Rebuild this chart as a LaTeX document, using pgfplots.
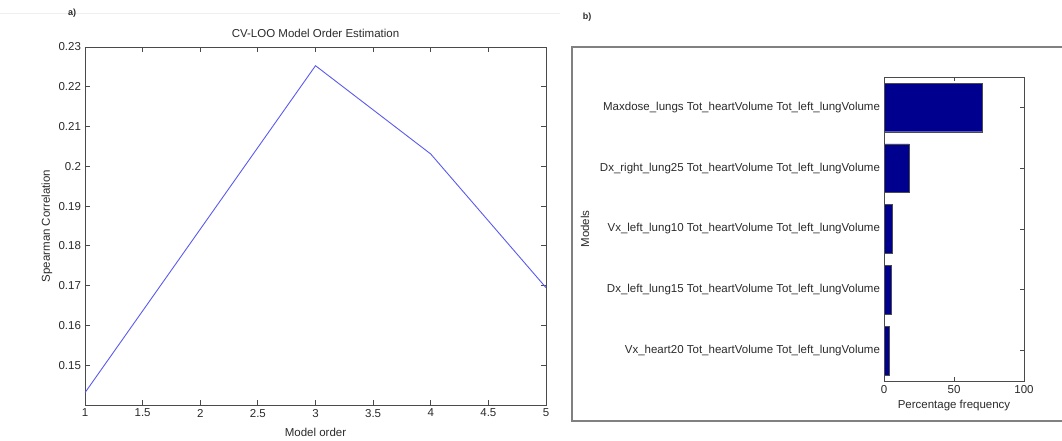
\documentclass[border=0pt]{standalone}
\usepackage{fontspec}
\setmainfont{Liberation Sans}
\usepackage{pgfplots}
\pgfplotsset{compat=1.18}
\definecolor{txt}{HTML}{2A2A2A}
\definecolor{axc}{HTML}{4A4A4A}
\definecolor{linec}{RGB}{90,90,238}
\definecolor{barc}{RGB}{0,0,143}
\begin{document}
\fontsize{11.5}{13.5}\selectfont
\begin{tikzpicture}[x=1pt,y=1pt]
\useasboundingbox (0,0) rectangle (1062,441);
\draw[black!6, line width=1pt] (0,427) -- (560,427);
\node[font=\bfseries\fontsize{9}{10}\selectfont, text=txt] at (72,428) {a)};
\node[font=\bfseries\fontsize{9}{10}\selectfont, text=txt] at (587,424) {b)};
\draw[black!50, line width=1.6pt] (1070,394) -- (572,394) -- (572,20) -- (1070,20);
\begin{axis}[
  at={(85pt,36pt)}, anchor=south west, scale only axis,
  width=461pt, height=358pt,
  xmin=1, xmax=5, ymin=0.14, ymax=0.23,
  xtick={1,1.5,2,2.5,3,3.5,4,4.5,5},
  ytick={0.15,0.16,0.17,0.18,0.19,0.2,0.21,0.22,0.23},
  scaled y ticks=false, scaled x ticks=false,
  /pgf/number format/assume math mode=true,
  yticklabel style={/pgf/number format/fixed, /pgf/number format/precision=2, text=txt},
  xticklabel style={text=txt},
  tick align=inside, major tick length=5pt,
  axis line style={axc, line width=0.9pt},
  tick style={axc, line width=0.8pt},
  title={CV-LOO Model Order Estimation},
  title style={at={(axis description cs:0.5,1.021)}, anchor=center, text=txt},
  xlabel={Model order},
  xlabel style={at={(axis description cs:0.5,-0.0754)}, anchor=center, text=txt},
  ylabel={Spearman Correlation},
  ylabel style={at={(axis description cs:-0.0824,0.5)}, anchor=center, text=txt},
]
\addplot[linec, line width=0.9pt] coordinates {
  (1,0.1431) (2,0.1842) (3,0.2253) (4,0.2031) (5,0.1695)
};
\end{axis}
\begin{axis}[
  at={(884pt,60pt)}, anchor=south west, scale only axis,
  width=140pt, height=304pt,
  xbar, bar width=0.8,
  xmin=0, xmax=100, ymin=0.5, ymax=5.5,
  xtick={0,50,100},
  ytick={1,2,3,4,5},
  yticklabels={
    {Vx\_heart20 Tot\_heartVolume Tot\_left\_lungVolume},
    {Dx\_left\_lung15 Tot\_heartVolume Tot\_left\_lungVolume},
    {Vx\_left\_lung10 Tot\_heartVolume Tot\_left\_lungVolume},
    {Dx\_right\_lung25 Tot\_heartVolume Tot\_left\_lungVolume},
    {Maxdose\_lungs Tot\_heartVolume Tot\_left\_lungVolume}},
  /pgf/number format/assume math mode=true,
  yticklabel style={text=txt},
  xticklabel style={text=txt},
  tick align=inside, major tick length=4pt,
  axis line style={axc, line width=0.9pt},
  tick style={axc, line width=0.8pt},
  xlabel={Percentage frequency},
  xlabel style={at={(axis description cs:0.5,-0.0822)}, anchor=center, text=txt},
  ylabel={Models},
  ylabel style={at={(axis description cs:-2.136,0.5)}, anchor=center, text=txt},
]
\addplot[fill=barc, draw=black!70, line width=0.4pt] coordinates {
  (3.6,1) (5.0,2) (6.2,3) (17.9,4) (70.0,5)
};
\end{axis}
\end{tikzpicture}
\end{document}
